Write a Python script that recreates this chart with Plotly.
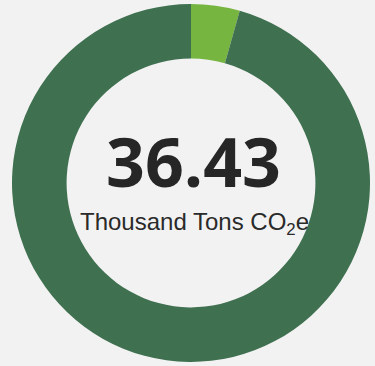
import plotly.graph_objects as go

labels = ["Segment A", "Segment B"]
values = [1.6, 34.83]
colors = ["#77b541", "#3f7050"]
total_label = "36.43"
unit_label = "Thousand Tons CO<sub>2</sub>e"

fig = go.Figure(go.Pie(
    labels=labels,
    values=values,
    hole=0.695,
    sort=False,
    direction="clockwise",
    rotation=0,
    marker=dict(colors=colors, line=dict(width=0)),
    textinfo="none",
    hoverinfo="label+value",
    domain=dict(x=[12/375, 370/375], y=[1-362/366, 1-4/366]),
    showlegend=False,
))

fig.add_annotation(text=total_label, x=193/375, y=1-160/366, xref="paper", yref="paper",
                   showarrow=False, xanchor="center", yanchor="middle",
                   font=dict(family="Open Sans", size=68, color="#262626", weight="bold"))
fig.add_annotation(text=unit_label, x=194/375, y=1-223/366, xref="paper", yref="paper",
                   showarrow=False, xanchor="center", yanchor="middle",
                   font=dict(family="Liberation Sans", size=24, color="#2a2a2a"))

fig.update_layout(
    width=375, height=366,
    margin=dict(l=0, r=0, t=0, b=0),
    paper_bgcolor="#f2f2f2",
    plot_bgcolor="#f2f2f2",
)

fig.write_html("out.html", config={"displayModeBar": False},
               post_script="document.body.style.margin='0';document.body.style.background='#f2f2f2';")
